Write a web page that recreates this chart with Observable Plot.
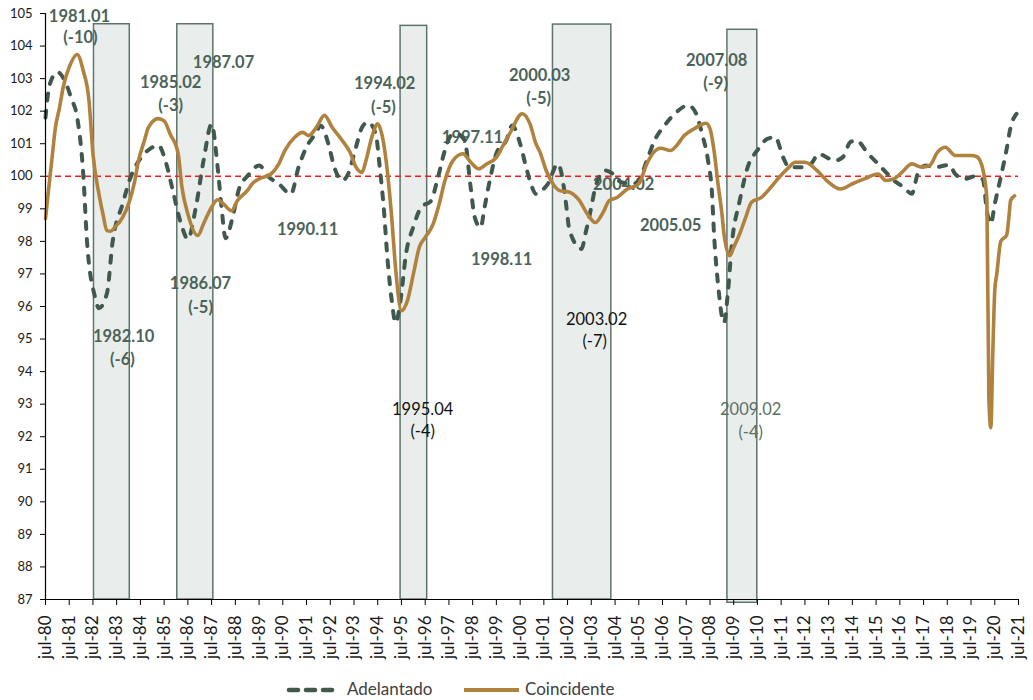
<!DOCTYPE html>
<html>
<head>
<meta charset="utf-8">
<script src="https://cdn.jsdelivr.net/npm/d3@7"></script>
<script src="https://cdn.jsdelivr.net/npm/@observablehq/plot@0.6"></script>
<style>
  html, body { margin: 0; padding: 0; background: #fff; }
  #wrap { position: relative; width: 1033px; height: 700px; font-family: Lato, "Open Sans", sans-serif; }
  #legend { position: absolute; left: 0; top: 672px; width: 1033px; height: 28px; }
  .lg { position: absolute; top: 7px; font-size: 17px; color: #404040; line-height: 20px; }
  .sw { position: absolute; top: 7px; }
</style>
</head>
<body>
<div id="wrap">
  <div id="chart"></div>
  <div id="legend">
    <svg class="sw" style="left:285px" width="56" height="20"><line x1="4" y1="11" x2="52" y2="11" stroke="#41584d" stroke-width="4.5" stroke-dasharray="9,8" stroke-linecap="round"/></svg>
    <span class="lg" style="left:347px">Adelantado</span>
    <svg class="sw" style="left:462px" width="60" height="20"><line x1="2" y1="11" x2="57" y2="11" stroke="#b0823d" stroke-width="4"/></svg>
    <span class="lg" style="left:525px">Coincidente</span>
  </div>
</div>
<script>
// ---- Data ----
const adelantado = [
  ["1980-07",101.8],["1980-09",102.8],["1981-01",103.2],["1981-05",102.9],["1981-08",102.4],
  ["1981-11",101.8],["1982-02",100.1],["1982-04",98.0],["1982-08",96.3],["1982-10",95.95],
  ["1983-02",96.4],["1983-05",98.0],["1983-10",99.15],["1984-02",99.97],["1984-07",100.55],
  ["1984-12",100.85],["1985-04",100.95],["1985-08",100.4],["1985-11",99.65],["1986-04",98.45],
  ["1986-07",98.07],["1986-11",99.05],["1987-03",100.5],["1987-07",101.6],["1987-10",100.3],
  ["1987-12",99.05],["1988-02",98.1],["1988-06",98.85],["1988-09",99.65],["1989-01",100.0],
  ["1989-07",100.33],["1989-12",99.97],["1990-05",99.77],["1990-11",99.45],["1991-03",100.28],
  ["1991-07",100.9],["1991-12",101.35],["1992-02",101.56],["1992-06",101.0],["1992-09",100.28],
  ["1993-01",99.87],["1993-04",100.07],["1993-08",100.9],["1993-11",101.5],["1994-02",101.66],
  ["1994-06",101.3],["1994-08",100.28],["1994-10",99.05],["1994-12",97.4],["1995-02",96.2],
  ["1995-04",95.5],["1995-07",96.4],["1995-09",97.5],["1996-01",98.45],["1996-05",99.05],
  ["1996-10",99.25],["1997-01",99.87],["1997-05",100.8],["1997-08",101.25],["1997-11",101.3],
  ["1998-03",101.1],["1998-06",99.65],["1998-08",98.75],["1998-11",98.43],["1999-01",99.05],
  ["1999-04",99.97],["1999-07",100.7],["1999-12",101.1],["2000-03",101.56],["2000-07",101.0],
  ["2000-10",100.28],["2001-01",99.66],["2001-03",99.46],["2001-06",99.56],["2001-09",99.77],
  ["2002-02",100.38],["2002-04",100.07],["2002-06",99.25],["2002-08",98.33],["2003-02",97.77],
  ["2003-04",98.23],["2003-07",99.05],["2003-09",99.66],["2004-02",100.18],["2004-06",100.07],
  ["2004-10",99.82],["2005-04",99.77],["2005-07",99.87],["2005-11",100.48],["2006-03",101.1],
  ["2006-08",101.56],["2007-02",101.97],["2007-08",102.18],["2007-12",101.92],["2008-03",101.3],
  ["2008-06",100.48],["2008-08",99.46],["2008-09",98.23],["2008-11",96.7],["2009-02",95.5],
  ["2009-04",96.4],["2009-06",97.9],["2009-10",99.25],["2010-02",100.28],["2010-07",100.8],
  ["2010-12",101.15],["2011-04",101.2],["2011-08",100.58],["2011-11",100.28],["2012-06",100.28],
  ["2012-10",100.38],["2013-02",100.69],["2013-06",100.58],["2013-10",100.48],["2014-02",100.58],
  ["2014-06",101.05],["2014-09",101.1],["2015-03",100.69],["2015-08",100.38],["2015-12",100.12],
  ["2016-04",99.87],["2016-09",99.66],["2017-01",99.46],["2017-04",100.07],["2017-08",100.33],
  ["2018-01",100.28],["2018-08",100.35],["2018-11",100.07],["2019-04",99.92],["2019-09",100.0],
  ["2020-01",99.9],["2020-03",98.94],["2020-05",98.54],["2020-07",99.15],["2020-10",99.97],
  ["2021-01",100.85],["2021-03",101.5],["2021-06",101.92]
];
const coincidente = [
  ["1980-07",98.7],["1980-09",99.87],["1980-10",100.4],["1980-12",101.5],["1981-02",102.1],
  ["1981-04",102.75],["1981-07",103.35],["1981-11",103.74],["1982-02",103.25],["1982-05",102.33],
  ["1982-07",100.7],["1982-10",99.46],["1982-12",98.85],["1983-02",98.33],["1983-04",98.31],
  ["1983-06",98.43],["1983-10",98.74],["1984-01",99.15],["1984-04",99.82],["1984-06",100.48],
  ["1984-09",101.1],["1984-11",101.5],["1985-04",101.77],["1985-07",101.7],["1985-10",101.3],
  ["1986-02",100.7],["1986-04",99.66],["1986-07",98.84],["1986-12",98.18],["1987-03",98.55],
  ["1987-07",99.05],["1987-10",99.28],["1988-01",99.15],["1988-05",98.94],["1988-08",99.25],
  ["1989-01",99.56],["1989-04",99.8],["1989-07",99.92],["1990-01",100.07],["1990-05",100.38],
  ["1990-08",100.79],["1991-01",101.2],["1991-05",101.35],["1991-08",101.25],["1991-12",101.5],
  ["1992-04",101.87],["1992-08",101.5],["1993-01",101.1],["1993-05",100.74],["1993-08",100.28],
  ["1993-11",100.12],["1994-01",100.48],["1994-04",101.2],["1994-07",101.61],["1994-09",101.3],
  ["1994-12",100.07],["1995-02",98.74],["1995-04",97.2],["1995-07",95.87],["1995-10",96.18],
  ["1996-01",97.0],["1996-04",97.82],["1996-07",98.12],["1996-11",98.54],["1997-02",99.15],
  ["1997-05",99.87],["1997-09",100.48],["1998-02",100.69],["1998-06",100.43],["1998-10",100.23],
  ["1999-02",100.38],["1999-07",100.58],["1999-10",100.9],["2000-02",101.35],["2000-08",101.92],
  ["2000-12",101.6],["2001-03",101.0],["2001-05",100.75],["2001-08",100.2],["2001-11",99.82],
  ["2002-03",99.56],["2002-08",99.51],["2003-01",99.25],["2003-05",98.84],["2003-09",98.58],
  ["2004-01",98.9],["2004-04",99.25],["2004-08",99.35],["2005-01",99.6],["2005-07",99.77],
  ["2005-11",100.38],["2006-02",100.7],["2006-06",100.86],["2006-11",100.79],["2007-02",100.94],
  ["2007-06",101.25],["2007-11",101.46],["2008-05",101.63],["2008-07",101.46],["2008-09",100.79],
  ["2008-11",99.77],["2009-01",98.84],["2009-02",98.23],["2009-05",97.56],["2009-07",97.82],
  ["2009-10",98.23],["2010-01",98.74],["2010-04",99.2],["2010-09",99.35],["2011-01",99.61],
  ["2011-06",99.97],["2011-11",100.28],["2012-02",100.43],["2012-07",100.43],["2013-01",100.18],
  ["2013-06",99.87],["2014-01",99.61],["2014-07",99.77],["2015-01",99.92],["2015-08",100.07],
  ["2015-12",99.87],["2016-04",99.92],["2016-08",100.12],["2017-01",100.38],["2017-06",100.28],
  ["2017-10",100.33],["2018-02",100.74],["2018-06",100.89],["2018-11",100.64],["2019-07",100.64],
  ["2019-10",100.6],["2020-01",100.2],["2020-03",99.3],["2020-04",93.2],["2020-05",92.28],
  ["2020-06",94.6],["2020-07",96.5],["2020-08",97.0],["2020-10",98.0],["2021-01",98.2],
  ["2021-02",98.7],["2021-03",99.25],["2021-05",99.4]
];
// shaded periods (decimal years) and their top values
const recessionStart = [1982.54, 1986.05, 1995.46, 2001.88, 2009.23];
const recessionEnd   = [1984.05, 1987.57, 1996.58, 2004.34, 2010.49];
const recessionTop   = [104.67, 104.67, 104.62, 104.66, 104.5];
const recessionBase  = [87, 87, 87, 87, 86.9];

// turning-point labels: text, decimal-year x, value y
const boldLabels = ["1981.01","(-10)","1985.02","(-3)","1987.07","1986.07","(-5)","1982.10","(-6)",
  "1990.11","1994.02","(-5)","1997.11","1998.11","2000.03","(-5)","2004.02","2005.05","2007.08","(-9)"];
const boldX = [1981.93,1981.97,1985.77,1985.77,1988.0,1987.03,1987.03,1983.79,1983.74,
  1991.54,1994.79,1994.74,1998.49,1999.72,2001.32,2001.28,2004.86,2006.84,2008.78,2008.73];
const boldY = [104.91,104.27,102.88,102.18,103.5,96.7,95.96,95.07,94.36,
  98.35,102.85,102.11,101.19,97.43,103.1,102.39,99.74,98.48,103.56,102.85];
const blackLabels = ["2003.02","(-7)","1995.04","(-4)"];
const blackX = [2003.72,2003.64,1996.39,1996.39];
const blackY = [95.59,94.91,92.82,92.14];
const greyLabels = ["2009.02","(-4)"];
const greyX = [2010.21,2010.21];
const greyY = [92.82,92.11];

const yTicks = d3.range(87, 106, 1);
const xTickYears = d3.range(1980, 2022, 1);

// ---- helpers ----
const m = s => new Date(s + "-01T00:00:00Z");
const dec = t => { const y = Math.floor(t); const a = Date.UTC(y,0,1), b = Date.UTC(y+1,0,1); return new Date(a + (t - y) * (b - a)); };
const toRows = arr => arr.map(([d, v]) => ({date: m(d), value: v}));
const lab = (texts, xs, ys) => texts.map((t, i) => ({text: t, x: dec(xs[i]), y: ys[i]}));

const adRows = toRows(adelantado);
const coRows = toRows(coincidente);
const recs = recessionStart.map((s, i) => ({x1: dec(s), x2: dec(recessionEnd[i]), y1: recessionBase[i], y2: recessionTop[i]}));
const julys = xTickYears.map(y => new Date(Date.UTC(y, 6, 1)));
const x0 = julys[0], x1 = julys[julys.length - 1];

const chart = Plot.plot({
  width: 1033, height: 672,
  marginLeft: 45, marginRight: 15, marginTop: 13, marginBottom: 73,
  style: {fontFamily: "Lato, 'Open Sans', sans-serif", background: "white", color: "#1a1a1a", overflow: "visible"},
  x: {type: "utc", domain: [x0, x1]},
  y: {domain: [87, 105]},
  marks: [
    Plot.rect(recs, {x1: "x1", x2: "x2", y1: "y1", y2: "y2", fill: "#e9eeec", stroke: "#5f7469", strokeWidth: 1.5, clip: false}),
    Plot.ruleY([100], {stroke: "#ff1a1a", strokeWidth: 1.5, strokeDasharray: "6,4"}),
    Plot.text(lab(boldLabels, boldX, boldY), {x: "x", y: "y", text: "text", fill: "#4b6358", fontWeight: "bold", fontSize: 16.5}),
    Plot.text(lab(blackLabels, blackX, blackY), {x: "x", y: "y", text: "text", fill: "#111", fontSize: 16.5}),
    Plot.text(lab(greyLabels, greyX, greyY), {x: "x", y: "y", text: "text", fill: "#5c7066", fontSize: 16.5}),
    Plot.line(adRows, {x: "date", y: "value", stroke: "#41584d", strokeWidth: 4, strokeDasharray: "7,10", strokeLinecap: "round", curve: "monotone-x"}),
    Plot.line(coRows, {x: "date", y: "value", stroke: "#b0823d", strokeWidth: 3.6, curve: "monotone-x"}),
    Plot.ruleX([x0], {stroke: "#000", strokeWidth: 1.2}),
    Plot.ruleY([87], {stroke: "#000", strokeWidth: 1.2}),
    Plot.axisY({ticks: yTicks, tickSize: 5, tickPadding: 8, fontSize: 13, label: null, stroke: "#000"}),
    Plot.axisX({ticks: julys, tickFormat: d => "jul-" + String(d.getUTCFullYear()).slice(2), tickRotate: -90, tickSize: 6, tickPadding: 10, fontSize: 17, label: null, stroke: "#000"})
  ]
});
document.getElementById("chart").appendChild(chart);
</script>
</body>
</html>
